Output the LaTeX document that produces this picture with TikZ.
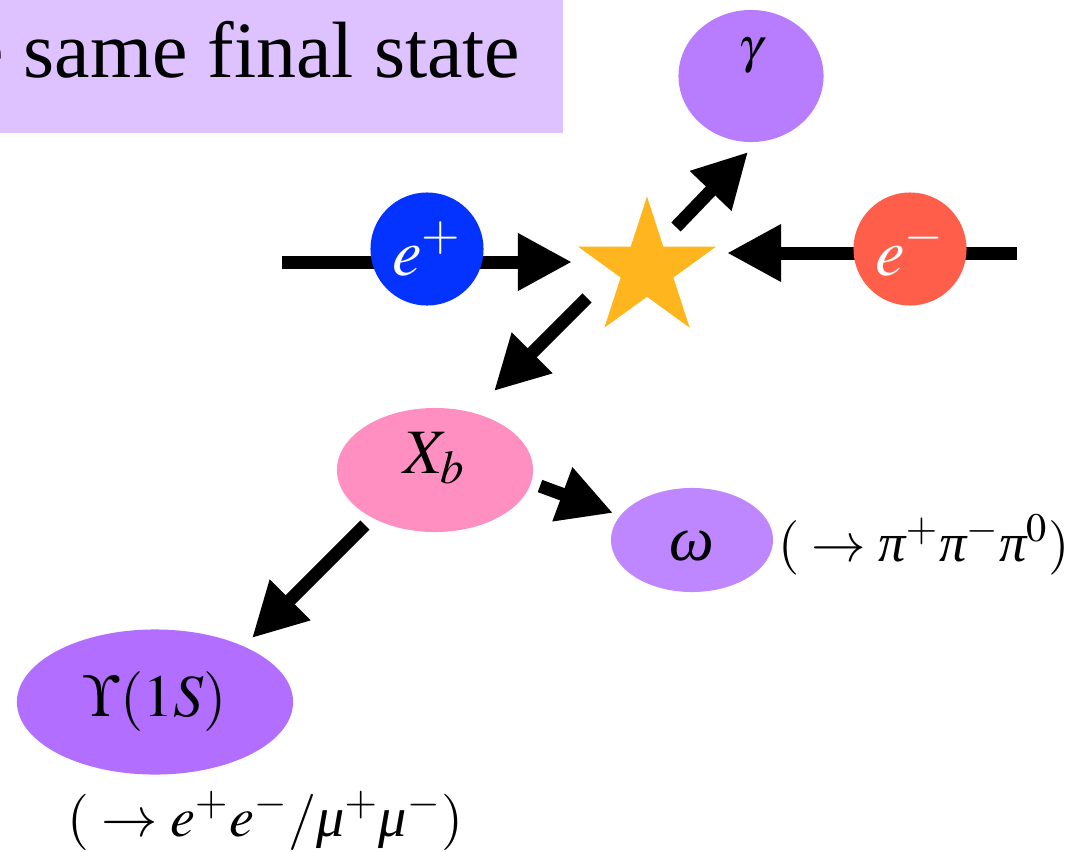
\documentclass[tikz,border=0pt]{standalone}
\usepackage{mathptmx}
\usepackage[no-math]{fontspec}
\setmainfont{Liberation Serif}
\usepackage{xcolor}
\usepackage{tikz}
\usetikzlibrary{shapes.geometric, arrows.meta, positioning}

\definecolor{titlebg}{RGB}{222,194,255}
\definecolor{gammapurple}{RGB}{184,124,255}
\definecolor{posblue}{RGB}{4,51,255}
\definecolor{elred}{RGB}{255,94,74}
\definecolor{staryellow}{RGB}{255,182,30}
\definecolor{xbpink}{RGB}{255,143,193}
\definecolor{omegapurple}{RGB}{190,134,255}
\definecolor{upspurple}{RGB}{178,110,255}
\newcommand\grk[1]{\mbox{\itshape #1}}

\begin{document}
\begin{tikzpicture}[
    x=0.01cm, y=-0.01cm,
    >={Triangle[length=0.54cm, width=0.54cm]},
    beam/.style={->, line width=0.13cm},
    particle/.style={ellipse, inner sep=0pt, font=\fontsize{17}{20}\selectfont},
    charge/.style={circle, minimum size=1.13cm, inner sep=0pt, text=white,
                   font=\fontsize{19}{22}\selectfont},
    decay/.style={font=\fontsize{16}{19}\selectfont, inner sep=0pt}
]
\clip (0,0) rectangle (1076,851);
\fill[titlebg] (-10,0) rectangle (563,133);
\node[anchor=base east, inner sep=0pt, font=\fontsize{22.7}{27}\selectfont]
    (title) at (521,77) {e same final state};

% collision
\node[star, star points=5, star point ratio=2.618, minimum size=1.45cm,
      inner sep=0pt, fill=staryellow] (star) at (647,269) {};
\coordinate (pin) at (282,262);
\coordinate (ein) at (1017,253);
\draw[beam, shorten >=0.75cm] (pin) -- (pin -| star.center);
\draw[beam, shorten >=0.8cm] (ein) -- (ein -| star.center);
\node[charge, fill=posblue] (eplus) at (427,249) {$e^+$};
\node[charge, fill=elred] (eminus) at (910,249) {$e^-$};

% products
\node[particle, fill=gammapurple, minimum width=1.45cm, minimum height=1.32cm,
      label={[font=\fontsize{14}{17}\selectfont, yshift=0.2cm]center:$\gamma$}]
    (gamma) at (751,76) {};
\node[particle, fill=xbpink, minimum width=1.96cm, minimum height=1.24cm,
      label={[font=\fontsize{18}{21}\selectfont, yshift=0.12cm]center:$X_b$}]
    (xb) at (435,470) {};
\node[particle, fill=omegapurple, minimum width=1.62cm, minimum height=1.04cm,
      label={[font=\fontsize{18}{21}\selectfont, yshift=-0.06cm]center:$\grk{ω}$}]
    (omega) at (692,540) {};
\node[particle, fill=upspurple, minimum width=2.76cm, minimum height=1.45cm]
    (ups) at (155,702) {$\Upsilon(1S)$};
\node[decay, anchor=west, font=\fontsize{15.5}{18}\selectfont] (omegadecay)
    at (778,545) {$({}\to\grk{π}^+\grk{π}^-\grk{π}^0)$};
\node[decay] (upsdecay) at (265,821) {$({}\to e^+e^-/\grk{μ}^+\grk{μ}^-)$};

\draw[beam] ([shift={(29,-42)}]star.center) -- ([shift={(-3,76)}]gamma.center);
\draw[beam] ([shift={(-60,29)}]star.center) -- ([shift={(59,-79)}]xb.center);
\draw[beam] ([shift={(105,16)}]xb.center) -- ([shift={(-79,-27)}]omega.center);
\draw[beam] ([shift={(-70,55)}]xb.center) -- ([shift={(97,-64)}]ups.center);
\end{tikzpicture}
\end{document}
